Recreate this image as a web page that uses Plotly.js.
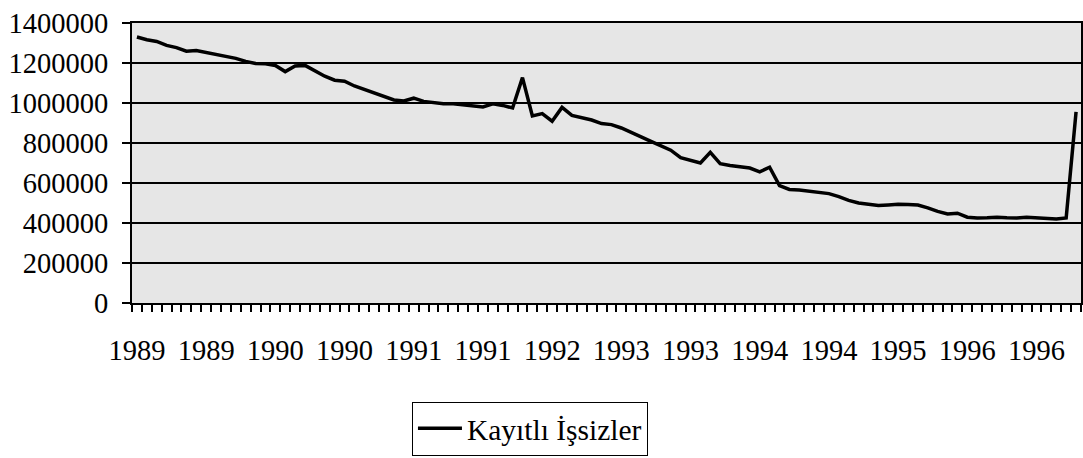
<!DOCTYPE html>
<html>
<head>
<meta charset="utf-8">
<script src="https://cdn.plot.ly/plotly-3.0.1.min.js"></script>
<style>html,body{margin:0;padding:0;background:#fff;}#chart{width:1083px;height:458px;}</style>
</head>
<body>
<div id="chart"></div>
<script>
// Monthly registered unemployed, Jan 1989 .. Dec 1996 (96 months)
const seriesName = "Kayıtlı İşsizler";
const values = [
  1330000, 1316000, 1308000, 1288000, 1277000, 1259000, 1262000, 1252000, 1244000, 1233000, 1223000, 1208000,
  1198000, 1196000, 1188000, 1157000, 1185000, 1188000, 1163000, 1134000, 1114000, 1109000, 1085000, 1067000,
  1048000, 1030000, 1015000, 1010000, 1024000, 1008000, 1001000, 996000, 996000, 991000, 983000, 980000,
  996000, 988000, 975000, 1127000, 935000, 947000, 909000, 978000, 938000, 927000, 915000, 897000,
  892000, 875000, 855000, 831000, 808000, 786000, 764000, 727000, 712000, 700000, 753000, 697000,
  688000, 683000, 675000, 656000, 679000, 587000, 568000, 565000, 560000, 555000, 547000, 532000,
  513000, 500000, 493000, 487000, 490000, 494000, 493000, 490000, 476000, 458000, 445000, 449000,
  429000, 425000, 426000, 429000, 426000, 425000, 429000, 426000, 420000, 420000, 425000, 956000
];
const categories = values.map((v, i) => i);           // month index
const tickIndex = [0, 7, 14, 21, 28, 35, 42, 49, 56, 63, 70, 77, 84, 91];
const tickLabels = ["1989","1989","1990","1990","1991","1991","1992","1993","1993","1994","1994","1995","1996","1996"];
const yTicks = [0, 200000, 400000, 600000, 800000, 1000000, 1200000, 1400000];

const font = "Liberation Serif, Times New Roman, serif";

const trace = {
  x: categories,
  y: values,
  type: "scatter",
  mode: "lines",
  name: seriesName,
  line: {color: "#000", width: 3.5},
  showlegend: true
};

const layout = {
  width: 1083, height: 458,
  margin: {l: 132, r: 2, t: 23, b: 151, pad: 0},
  paper_bgcolor: "#ffffff",
  plot_bgcolor: "#e6e6e6",
  font: {family: font, color: "#000", size: 28},
  xaxis: {
    range: [-0.5, values.length - 0.5],
    tickmode: "array",
    tickvals: tickIndex,
    ticktext: tickLabels,
    ticks: "",
    showgrid: false,
    zeroline: false,
    showline: true, linecolor: "#000", linewidth: 2, mirror: true,
    ticklabelstandoff: 21,
    tickfont: {family: font, size: 28.5, color: "#000"},
    minor: {tickmode: "linear", tick0: -0.5, dtick: 1, ticks: "outside", ticklen: 7, tickwidth: 2, tickcolor: "#000", showgrid: false}
  },
  yaxis: {
    range: [0, 1400000],
    tickmode: "array",
    tickvals: yTicks,
    ticktext: yTicks.map(String),
    ticks: "outside", ticklen: 8, tickwidth: 2, tickcolor: "#000",
    ticklabelstandoff: 8,
    showgrid: true, gridcolor: "#000", gridwidth: 2,
    zeroline: false,
    showline: true, linecolor: "#000", linewidth: 2, mirror: true,
    tickfont: {family: font, size: 28.5, color: "#000"}
  },
  legend: {
    x: 0.295, xanchor: "left",
    y: -0.352, yanchor: "top",
    bgcolor: "#fff",
    bordercolor: "#000", borderwidth: 1,
    font: {family: font, size: 29.5, color: "#000"},
    itemwidth: 44
  },
  showlegend: true
};

Plotly.newPlot("chart", [trace], layout, {staticPlot: true, displayModeBar: false});
</script>
</body>
</html>
